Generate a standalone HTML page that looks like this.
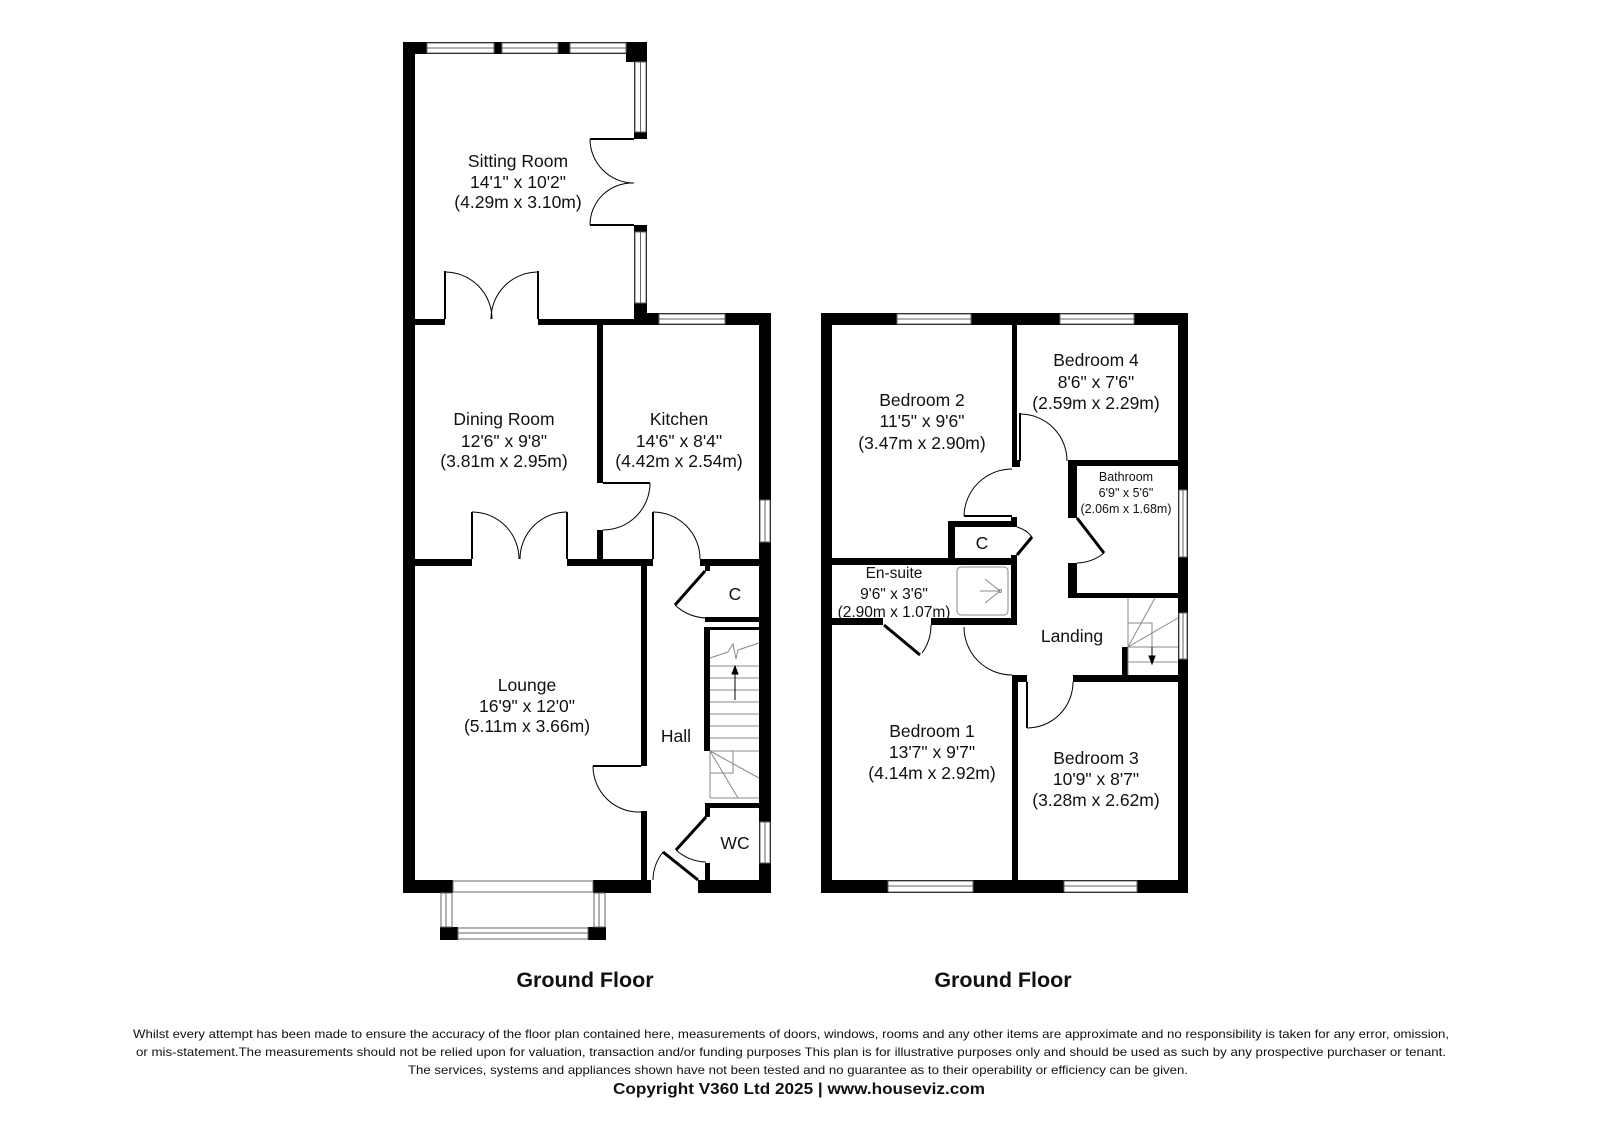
<!DOCTYPE html>
<html><head><meta charset="utf-8"><style>
html,body{margin:0;padding:0;background:#fff;}
svg{display:block;}
text{font-family:"Liberation Sans",Arial,sans-serif;fill:#111;}
</style></head><body>
<svg width="1600" height="1131" viewBox="0 0 1600 1131" xmlns="http://www.w3.org/2000/svg">
<rect width="1600" height="1131" fill="#fff"/>
<g fill="#000">
<rect x="403" y="42" width="244" height="12"/>
<rect x="626" y="42" width="21" height="20"/>
<rect x="403" y="42" width="12" height="851"/>
<rect x="634" y="42" width="13" height="97"/>
<rect x="634" y="225" width="13" height="100"/>
<rect x="415" y="319" width="30" height="6"/>
<rect x="538" y="319" width="109" height="6"/>
<rect x="634" y="313" width="137" height="12"/>
<rect x="759" y="313" width="12" height="580"/>
<rect x="597" y="325" width="6" height="158"/>
<rect x="597" y="530" width="6" height="36"/>
<rect x="415" y="559" width="57" height="7"/>
<rect x="567" y="559" width="86" height="7"/>
<rect x="700" y="559" width="71" height="7"/>
<rect x="641" y="566" width="6" height="200"/>
<rect x="641" y="811" width="6" height="82"/>
<rect x="403" y="880" width="50" height="13"/>
<rect x="593" y="880" width="58" height="13"/>
<rect x="698" y="880" width="73" height="13"/>
<rect x="440" y="927" width="18" height="13"/>
<rect x="588" y="927" width="18" height="13"/>
<rect x="705" y="566" width="5" height="5"/>
<rect x="705" y="617" width="54" height="5"/>
<rect x="704" y="627" width="55" height="3"/>
<rect x="704" y="627" width="6" height="124"/>
<rect x="705" y="803" width="54" height="5"/>
<rect x="705" y="803" width="5" height="14"/>
<rect x="705" y="863" width="5" height="30"/>

<rect x="821" y="313" width="367" height="12"/>
<rect x="821" y="313" width="11" height="580"/>
<rect x="1178" y="313" width="10" height="580"/>
<rect x="821" y="880" width="367" height="13"/>
<rect x="1012" y="325" width="5" height="142"/>
<rect x="1012" y="460" width="8" height="7"/>
<rect x="1068" y="460" width="110" height="6"/>
<rect x="1068" y="460" width="9" height="58"/>
<rect x="1068" y="563" width="9" height="35"/>
<rect x="1068" y="593" width="110" height="5"/>
<rect x="948" y="521" width="7" height="44"/>
<rect x="948" y="521" width="69" height="6"/>
<rect x="1011" y="517" width="6" height="10"/>
<rect x="1011" y="555" width="6" height="10"/>
<rect x="821" y="558" width="196" height="7"/>
<rect x="1011" y="558" width="6" height="67"/>
<rect x="832" y="618" width="51" height="7"/>
<rect x="931" y="618" width="86" height="7"/>
<rect x="1012" y="675" width="6" height="205"/>
<rect x="1012" y="675" width="15" height="7"/>
<rect x="1073" y="675" width="105" height="7"/>
<rect x="1122" y="647" width="6" height="28"/>
</g>

<g fill="#fff" stroke="#666" stroke-width="1">
<rect x="427" y="43" width="67" height="10"/><line x1="427" y1="48" x2="494" y2="48"/>
<rect x="502" y="43" width="56" height="10"/><line x1="502" y1="48" x2="558" y2="48"/>
<rect x="570" y="43" width="56" height="10"/><line x1="570" y1="48" x2="626" y2="48"/>
<rect x="635" y="62" width="11" height="70"/><line x1="640.5" y1="62" x2="640.5" y2="132"/>
<rect x="635" y="232" width="11" height="71"/><line x1="640.5" y1="232" x2="640.5" y2="303"/>
<rect x="659" y="314" width="66" height="10"/><line x1="659" y1="319" x2="725" y2="319"/>
<rect x="760" y="500" width="10" height="42"/><line x1="765" y1="500" x2="765" y2="542"/>
<rect x="760" y="822" width="10" height="41"/><line x1="765" y1="822" x2="765" y2="863"/>
<rect x="453" y="881" width="140" height="11"/>
<rect x="441" y="893" width="11" height="34"/><line x1="446" y1="893" x2="446" y2="927"/>
<rect x="594" y="893" width="11" height="34"/><line x1="599" y1="893" x2="599" y2="927"/>
<rect x="458" y="928" width="130" height="11"/><line x1="458" y1="933" x2="588" y2="933"/>
<rect x="897" y="314" width="74" height="10"/><line x1="897" y1="319" x2="971" y2="319"/>
<rect x="1060" y="314" width="74" height="10"/><line x1="1060" y1="319" x2="1134" y2="319"/>
<rect x="1179" y="490" width="8" height="67"/><line x1="1183" y1="490" x2="1183" y2="557"/>
<rect x="1179" y="613" width="8" height="46"/><line x1="1183" y1="613" x2="1183" y2="659"/>
<rect x="888" y="881" width="85" height="11"/><line x1="888" y1="886" x2="973" y2="886"/>
<rect x="1064" y="881" width="73" height="11"/><line x1="1064" y1="886" x2="1137" y2="886"/>
</g>

<g fill="none" stroke="#000" stroke-width="1">
<line x1="590" y1="139" x2="634" y2="139" stroke-width="2"/>
<line x1="590" y1="225" x2="634" y2="225" stroke-width="2"/>
<path d="M590 139 A44 44 0 0 0 634 183"/>
<path d="M590 225 A42 42 0 0 1 634 183"/>
<line x1="445" y1="271" x2="445" y2="319" stroke-width="2"/>
<line x1="538" y1="271" x2="538" y2="319" stroke-width="2"/>
<path d="M445 272 A47 47 0 0 1 492 319"/>
<path d="M538 272 A47 47 0 0 0 491 319"/>
<line x1="472" y1="512" x2="472" y2="559" stroke-width="2"/>
<line x1="567" y1="512" x2="567" y2="559" stroke-width="2"/>
<path d="M472 512 A47 47 0 0 1 519 559"/>
<path d="M567 512 A47 47 0 0 0 520 559"/>
<line x1="603" y1="483" x2="650" y2="483" stroke-width="2"/>
<path d="M650 483 A47 47 0 0 1 603 530"/>
<line x1="653" y1="512" x2="653" y2="559" stroke-width="2"/>
<path d="M653 512 A47 47 0 0 1 700 559"/>
<line x1="593" y1="766" x2="641" y2="766" stroke-width="2"/>
<path d="M593 766 A46 46 0 0 0 641 812"/>
<line x1="705" y1="571" x2="675" y2="605" stroke-width="3"/>
<path d="M675 605 A47 47 0 0 0 708 618"/>
<line x1="706" y1="817" x2="676" y2="850" stroke-width="3"/>
<path d="M676 850 A47 47 0 0 0 706 862"/>
<line x1="663" y1="852" x2="698" y2="880" stroke-width="3"/>
<path d="M653 880 A46 46 0 0 1 663 852"/>
<line x1="1020" y1="413" x2="1020" y2="461" stroke-width="2"/>
<path d="M1020 414 A47 47 0 0 1 1067 461"/>
<line x1="964" y1="516" x2="1012" y2="516" stroke-width="2"/>
<path d="M964 516 A48 48 0 0 1 1012 469"/>
<line x1="1017" y1="555" x2="1032" y2="537" stroke-width="3"/>
<path d="M1017 527 A28 28 0 0 1 1032 537"/>
<line x1="1077" y1="518" x2="1104" y2="553" stroke-width="3"/>
<path d="M1104 553 A45 45 0 0 1 1077 563"/>
<line x1="884" y1="625" x2="920" y2="655" stroke-width="3"/>
<path d="M922 653 A47 47 0 0 0 931 625"/>
<path d="M964 627 A48 48 0 0 0 1012 675"/>
<line x1="1027" y1="682" x2="1027" y2="728" stroke-width="2"/>
<path d="M1073 682 A46 46 0 0 1 1027 728"/>
</g>

<g fill="none" stroke="#888" stroke-width="1">
<line x1="710" y1="666" x2="759" y2="666"/>
<line x1="710" y1="678" x2="759" y2="678"/>
<line x1="710" y1="690" x2="759" y2="690"/>
<line x1="710" y1="702" x2="759" y2="702"/>
<line x1="710" y1="714" x2="759" y2="714"/>
<line x1="710" y1="726" x2="759" y2="726"/>
<line x1="710" y1="738" x2="759" y2="738"/>
<line x1="710" y1="751" x2="759" y2="751"/>
<line x1="710" y1="798" x2="759" y2="798"/>
<line x1="710" y1="751" x2="710" y2="798"/>
<line x1="710" y1="751" x2="759" y2="778"/>
<line x1="710" y1="751" x2="738" y2="798"/>
<polyline points="710,773 733,773 733,751"/>
<polyline points="710,658 728,652 733,644 736,659 738,650 759,643"/>
<line x1="1128" y1="598" x2="1128" y2="675"/>
<polyline points="1128,623 1152,623 1152,647"/>
<line x1="1128" y1="647" x2="1178" y2="647"/>
<line x1="1128" y1="662" x2="1178" y2="662"/>
<line x1="1128" y1="647" x2="1155" y2="598"/>
<line x1="1128" y1="647" x2="1178" y2="618"/>
<rect x="957" y="567" width="51" height="48" rx="4"/>
<line x1="980" y1="591" x2="1000" y2="591"/>
<line x1="985" y1="579" x2="1000" y2="591"/>
<line x1="985" y1="603" x2="1000" y2="591"/>
<circle cx="1000" cy="591" r="1.5"/>
</g>
<g stroke="#000" stroke-width="1" fill="#000">
<line x1="735" y1="700" x2="735" y2="672"/><path d="M732 674 L735 666 L738 674 Z"/>
<line x1="1152" y1="647" x2="1152" y2="658"/><path d="M1149 656 L1152 664 L1155 656 Z"/>
</g>

<g font-size="17.5" text-anchor="middle">
<text x="518" y="167">Sitting Room</text><text x="518" y="188">14'1" x 10'2"</text><text x="518" y="208">(4.29m x 3.10m)</text>
<text x="504" y="425">Dining Room</text><text x="504" y="447">12'6" x 9'8"</text><text x="504" y="467">(3.81m x 2.95m)</text>
<text x="679" y="425">Kitchen</text><text x="679" y="447">14'6" x 8'4"</text><text x="679" y="467">(4.42m x 2.54m)</text>
<text x="527" y="691">Lounge</text><text x="527" y="712">16'9" x 12'0"</text><text x="527" y="732">(5.11m x 3.66m)</text>
<text x="676" y="742">Hall</text>
<text x="735" y="600">C</text>
<text x="735" y="849">WC</text>
<text x="922" y="406">Bedroom 2</text><text x="922" y="427">11'5" x 9'6"</text><text x="922" y="449">(3.47m x 2.90m)</text>
<text x="1096" y="366">Bedroom 4</text><text x="1096" y="388">8'6" x 7'6"</text><text x="1096" y="409">(2.59m x 2.29m)</text>
<text x="982" y="549">C</text>
<text x="1072" y="642">Landing</text>
<text x="932" y="737">Bedroom 1</text><text x="932" y="758">13'7" x 9'7"</text><text x="932" y="779">(4.14m x 2.92m)</text>
<text x="1096" y="764">Bedroom 3</text><text x="1096" y="785">10'9" x 8'7"</text><text x="1096" y="806">(3.28m x 2.62m)</text>
</g>
<g font-size="12.5" text-anchor="middle">
<text x="1126" y="481">Bathroom</text><text x="1126" y="497">6'9" x 5'6"</text><text x="1126" y="513">(2.06m x 1.68m)</text>
</g>
<g font-size="15.5" text-anchor="middle">
<text x="894" y="578">En-suite</text><text x="894" y="599">9'6" x 3'6"</text><text x="894" y="617">(2.90m x 1.07m)</text>
</g>
<g font-size="21.5" font-weight="bold" text-anchor="middle">
<text x="585" y="987">Ground Floor</text>
<text x="1003" y="987">Ground Floor</text>
</g>
<g font-size="12" text-anchor="middle">
<text x="791" y="1038" textLength="1316" lengthAdjust="spacingAndGlyphs">Whilst every attempt has been made to ensure the accuracy of the floor plan contained here, measurements of doors, windows, rooms and any other items are approximate and no responsibility is taken for any error, omission,</text>
<text x="791" y="1056" textLength="1310" lengthAdjust="spacingAndGlyphs">or mis-statement.The measurements should not be relied upon for valuation, transaction and/or funding purposes This plan is for illustrative purposes only and should be used as such by any prospective purchaser or tenant.</text>
<text x="798" y="1074" textLength="780" lengthAdjust="spacingAndGlyphs">The services, systems and appliances shown have not been tested and no guarantee as to their operability or efficiency can be given.</text>
</g>
<text x="799" y="1094" font-size="16" font-weight="bold" text-anchor="middle" textLength="372" lengthAdjust="spacingAndGlyphs">Copyright V360 Ltd 2025 | www.houseviz.com</text>
</svg>
</body></html>
